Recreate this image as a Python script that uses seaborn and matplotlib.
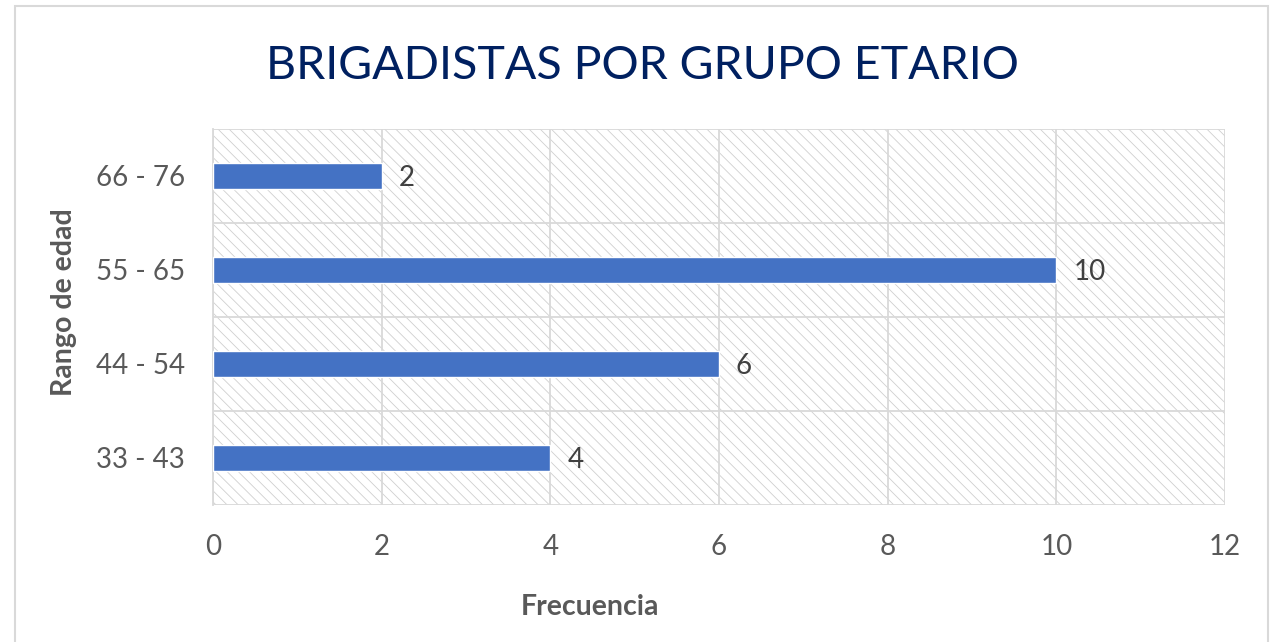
import matplotlib
matplotlib.use("Agg")
import matplotlib.pyplot as plt
from matplotlib.patches import Rectangle
from matplotlib.ticker import MultipleLocator, FixedLocator
import seaborn as sns
import pandas as pd

rangos = ["66 - 76", "55 - 65", "44 - 54", "33 - 43"]
frecuencia = [2, 10, 6, 4]

df = pd.DataFrame({"rango": rangos, "frecuencia": frecuencia})

sns.set_style("white")
plt.rcParams["font.family"] = ["Lato", "DejaVu Sans"]
plt.rcParams["hatch.linewidth"] = 0.6
plt.rcParams["hatch.color"] = "#cfcfcf"

gray = "#595959"
line = "#d9d9d9"

fig = plt.figure(figsize=(12.73, 6.42), dpi=100)
ax = fig.add_axes([213 / 1273, 1 - 505 / 642, 1012 / 1273, 376 / 642])

# hatched plot area background
ax.add_patch(Rectangle((0, 0), 1, 1, transform=ax.transAxes, facecolor="white",
                       edgecolor="#cfcfcf", hatch="\\\\\\", lw=0, zorder=0))

sns.barplot(data=df, x="frecuencia", y="rango", order=rangos, orient="h",
            color="#4472C4", width=0.28, saturation=1, ax=ax, zorder=3)

for i, v in enumerate(frecuencia):
    ax.text(v + 0.2, i, str(v), va="center_baseline", ha="left", fontsize=20,
            color="#404040", zorder=4)

ax.set_xlim(0, 12)
ax.set_ylim(3.5, -0.5)
ax.xaxis.set_major_locator(MultipleLocator(2))
ax.yaxis.set_minor_locator(FixedLocator([-0.5, 0.5, 1.5, 2.5, 3.5]))
ax.grid(axis="x", which="major", color=line, lw=1.3, zorder=1)
ax.grid(axis="y", which="minor", color=line, lw=1.3, zorder=1)
ax.set_axisbelow(True)

for s in ["top", "right", "bottom"]:
    ax.spines[s].set_visible(False)
ax.spines["left"].set_color(line)
ax.spines["left"].set_linewidth(1.3)

ax.tick_params(axis="x", length=0, labelsize=20, labelcolor=gray, pad=21)
ax.tick_params(axis="y", which="major", length=0, labelsize=20, labelcolor=gray, pad=20)
ax.tick_params(axis="y", which="minor", length=7, width=1.3, color=line)

ax.set_xlabel("Frecuencia", fontsize=20.5, fontweight="bold", color=gray)
ax.set_ylabel("Rango de edad", fontsize=20.5, fontweight="bold", color=gray)
ax.xaxis.set_label_coords((590 - 213) / 1012, -(594 - 505) / 376)
ax.yaxis.set_label_coords(-(213 - 77) / 1012, (505 - 302) / 376)

fig.text(0.5045, 1 - 66 / 642, "BRIGADISTAS POR GRUPO ETARIO", ha="center",
         va="center", fontsize=33.5, color="#002060")

# chart outer frame
fig.patches.append(Rectangle((15 / 1273, -0.01), 1253 / 1273, 1 - 6 / 642 + 0.01,
                             transform=fig.transFigure, fill=False,
                             edgecolor=line, lw=1.5))

plt.savefig("out.png", dpi=100)
